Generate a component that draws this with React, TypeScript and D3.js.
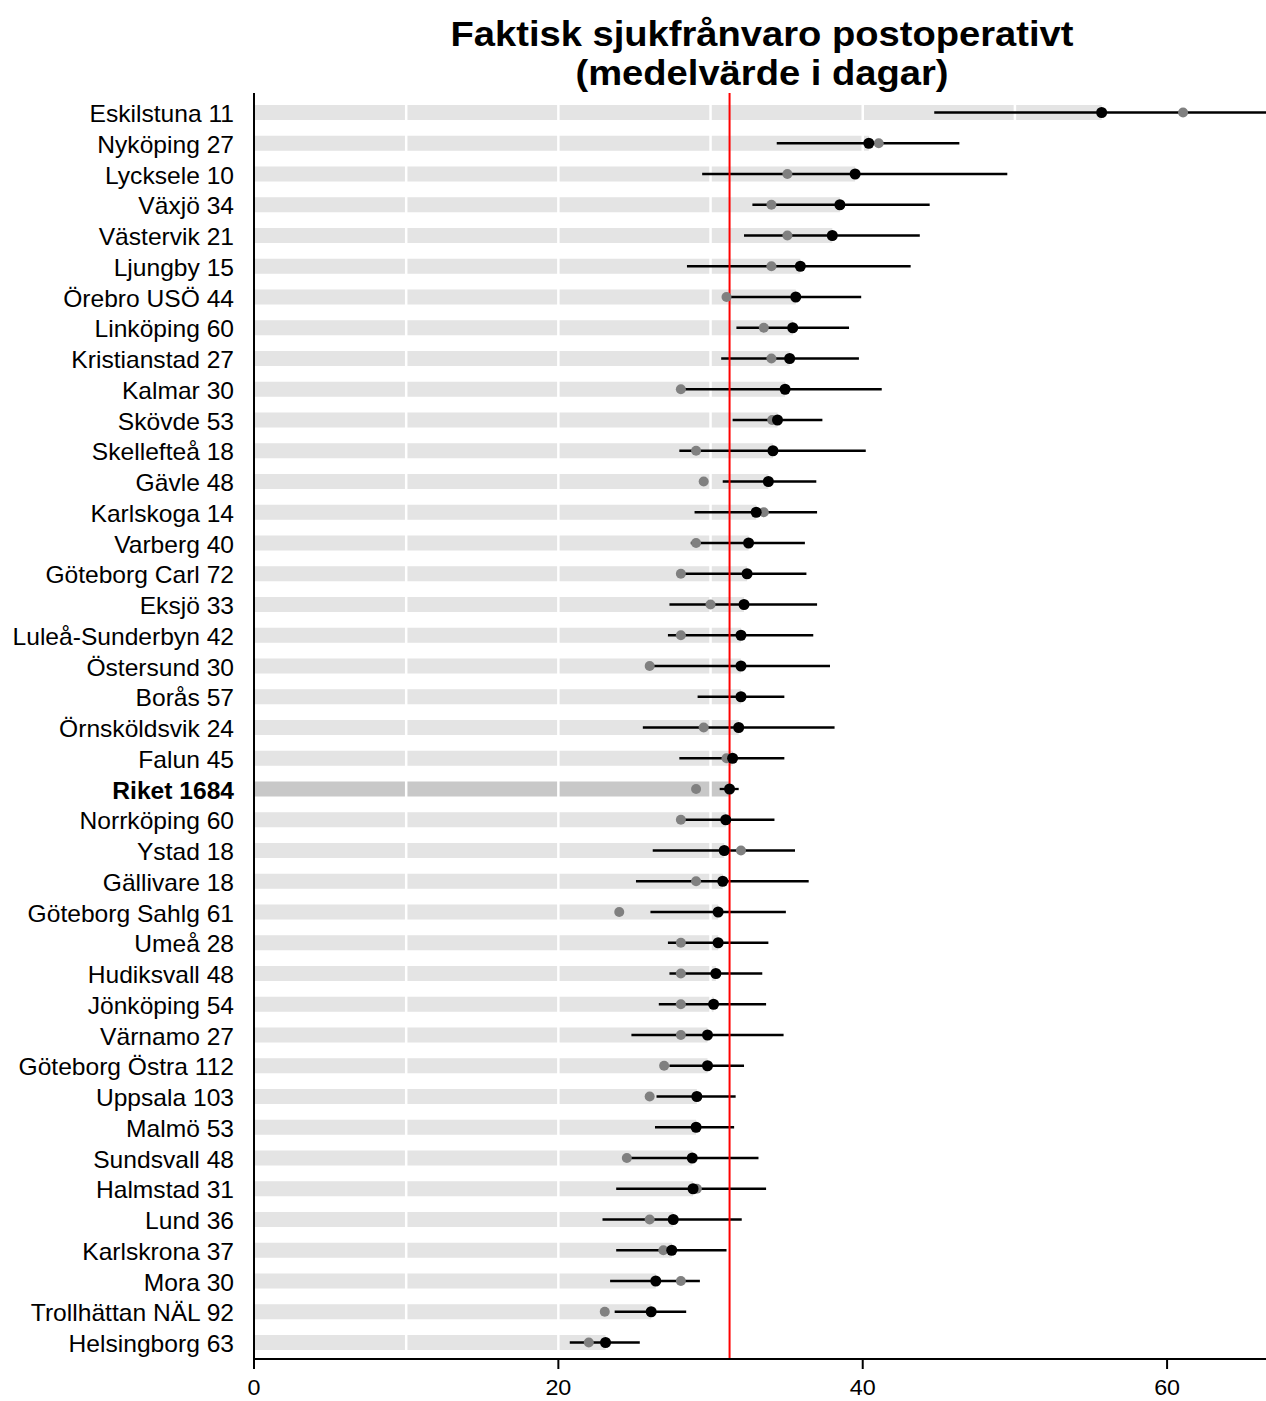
import React from "react";
import * as d3 from "d3";

// Hospitals, ordered top to bottom
const units = [
  "Eskilstuna", "Nyköping", "Lycksele", "Växjö", "Västervik", "Ljungby", "Örebro USÖ",
  "Linköping", "Kristianstad", "Kalmar", "Skövde", "Skellefteå", "Gävle", "Karlskoga",
  "Varberg", "Göteborg Carl", "Eksjö", "Luleå-Sunderbyn", "Östersund", "Borås",
  "Örnsköldsvik", "Falun", "Riket", "Norrköping", "Ystad", "Gällivare", "Göteborg Sahlg",
  "Umeå", "Hudiksvall", "Jönköping", "Värnamo", "Göteborg Östra", "Uppsala", "Malmö",
  "Sundsvall", "Halmstad", "Lund", "Karlskrona", "Mora", "Trollhättan NÄL", "Helsingborg",
];

// Number of patients per unit
const counts = [
  11, 27, 10, 34, 21, 15, 44, 60, 27, 30, 53, 18, 48, 14, 40, 72, 33, 42, 30, 57, 24, 45,
  1684, 60, 18, 18, 61, 28, 48, 54, 27, 112, 103, 53, 48, 31, 36, 37, 30, 92, 63,
];

// Mean sick leave (days), current period
const meanDays = [
  55.7, 40.4, 39.5, 38.5, 38.0, 35.9, 35.6, 35.4, 35.2, 34.9, 34.4, 34.1, 33.8, 33.0,
  32.5, 32.4, 32.2, 32.0, 32.0, 32.0, 31.85, 31.45, 31.25, 31.0, 30.9, 30.8, 30.5, 30.5,
  30.35, 30.2, 29.8, 29.8, 29.1, 29.05, 28.8, 28.85, 27.55, 27.45, 26.4, 26.1, 23.1,
];

// Mean sick leave (days), comparison period
const previousDays = [
  61.05, 41.05, 35.05, 34.0, 35.05, 34.0, 31.05, 33.5, 34.0, 28.05, 34.05, 29.05, 29.55,
  33.5, 29.05, 28.05, 30.0, 28.05, 26.0, 32.0, 29.55, 31.05, 29.05, 28.05, 32.0, 29.05,
  24.0, 28.05, 28.05, 28.05, 28.05, 26.95, 26.0, 29.05, 24.5, 29.1, 26.0, 26.9, 28.05,
  23.05, 22.0,
];

// 95% confidence interval of the current mean
const ciLow = [
  44.7, 34.35, 29.45, 32.75, 32.2, 28.45, 31.2, 31.7, 30.7, 28.1, 31.45, 27.95, 30.8,
  28.95, 28.7, 28.1, 27.3, 27.2, 26.1, 29.15, 25.55, 27.95, 30.6, 28.2, 26.2, 25.1, 26.05,
  27.2, 27.3, 26.6, 24.8, 27.3, 26.45, 26.35, 24.55, 23.8, 22.9, 23.8, 23.4, 23.7, 20.75,
];
const ciHigh = [
  68.0, 46.35, 49.5, 44.4, 43.75, 43.15, 39.9, 39.1, 39.75, 41.25, 37.35, 40.2, 36.95,
  37.0, 36.2, 36.3, 37.0, 36.75, 37.85, 34.85, 38.15, 34.85, 31.85, 34.2, 35.55, 36.45,
  34.95, 33.8, 33.4, 33.65, 34.8, 32.2, 31.65, 31.55, 33.15, 33.65, 32.05, 31.05, 29.3,
  28.4, 25.35,
];

const xTicks = [0, 20, 40, 60];
const gridValues = [10, 20, 30, 40, 50, 60];
const nationalUnit = "Riket";

const W = 1266;
const H = 1401;
const left = 254;
const right = 1266;
const top = 93;
const bottom = 1359;

export default function App() {
  const x = d3.scaleLinear().domain([0, 66.5]).range([left, right]);
  const y = d3.scalePoint<string>().domain(units).range([112.5, 1342.5]);
  const barH = 15;
  const font = "'Liberation Sans', Arial, sans-serif";
  const national = meanDays[units.indexOf(nationalUnit)];

  const rows = units.map((u, i) => ({
    unit: u,
    label: `${u} ${counts[i]}`,
    mean: meanDays[i],
    prev: previousDays[i],
    lo: ciLow[i],
    hi: ciHigh[i],
  }));

  return (
    <svg
      width={W}
      height={H}
      viewBox={`0 0 ${W} ${H}`}
      style={{ position: "absolute", left: 0, top: 0, display: "block", background: "#fff" }}
      fontFamily={font}
    >
      <defs>
        <clipPath id="plotClip">
          <rect x={left} y={top} width={right - left} height={bottom - top} />
        </clipPath>
      </defs>

      {/* Title */}
      <g transform="translate(762,0) scale(1.09,1)">
        <text x={0} y={46} textAnchor="middle" fontSize={35} fontWeight="bold" fill="#000">
          Faktisk sjukfrånvaro postoperativt
        </text>
        <text x={0} y={85} textAnchor="middle" fontSize={35} fontWeight="bold" fill="#000">
          (medelvärde i dagar)
        </text>
      </g>

      <g clipPath="url(#plotClip)">
        {/* Bars */}
        {rows.map((r) => (
          <rect
            key={`bar-${r.unit}`}
            x={x(0)}
            y={(y(r.unit) as number) - barH / 2}
            width={x(r.mean) - x(0)}
            height={barH}
            fill={r.unit === nationalUnit ? "#c8c8c8" : "#e4e4e4"}
          />
        ))}
        {/* White grid lines */}
        {gridValues.map((g) => (
          <line key={`grid-${g}`} x1={x(g)} x2={x(g)} y1={top} y2={bottom} stroke="#fff" strokeWidth={2.5} />
        ))}
        {/* Confidence intervals */}
        {rows.map((r) => (
          <line
            key={`ci-${r.unit}`}
            x1={x(r.lo)}
            x2={x(r.hi)}
            y1={y(r.unit) as number}
            y2={y(r.unit) as number}
            stroke="#000"
            strokeWidth={2.3}
          />
        ))}
        {/* National mean */}
        <line x1={x(national)} x2={x(national)} y1={top} y2={bottom} stroke="#ff0000" strokeWidth={2} />
        {/* Comparison period */}
        {rows.map((r) => (
          <circle key={`prev-${r.unit}`} cx={x(r.prev)} cy={y(r.unit) as number} r={5} fill="#808080" />
        ))}
        {/* Current period */}
        {rows.map((r) => (
          <circle key={`mean-${r.unit}`} cx={x(r.mean)} cy={y(r.unit) as number} r={5.5} fill="#000" />
        ))}
      </g>

      {/* Axes */}
      <line x1={left} x2={left} y1={top} y2={bottom + 1} stroke="#000" strokeWidth={2} />
      <line x1={left - 1} x2={right} y1={bottom} y2={bottom} stroke="#000" strokeWidth={2} />
      {xTicks.map((t) => (
        <g key={`tick-${t}`}>
          <line x1={x(t)} x2={x(t)} y1={bottom} y2={bottom + 10} stroke="#000" strokeWidth={2} />
          <g transform={`translate(${x(t)},1395) scale(1.06,1)`}>
            <text x={0} y={0} textAnchor="middle" fontSize={22} fill="#000">
              {t}
            </text>
          </g>
        </g>
      ))}

      {/* Unit labels */}
      {rows.map((r) => (
        <g key={`label-${r.unit}`} transform={`translate(234,${(y(r.unit) as number) + 9.5}) scale(1.07,1)`}>
          <text
            x={0}
            y={0}
            textAnchor="end"
            fontSize={23}
            fontWeight={r.unit === nationalUnit ? "bold" : "normal"}
            fill="#000"
          >
            {r.label}
          </text>
        </g>
      ))}
    </svg>
  );
}
